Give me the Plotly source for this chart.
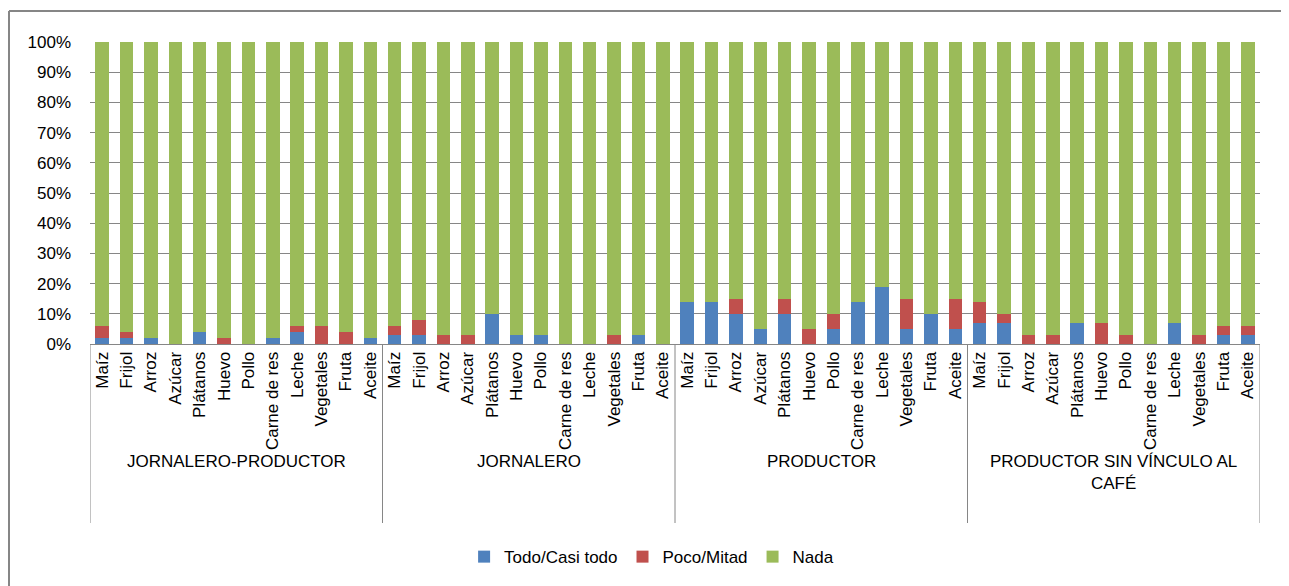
import plotly.graph_objects as go

groups = ["JORNALERO-PRODUCTOR", "JORNALERO", "PRODUCTOR", "PRODUCTOR SIN VÍNCULO AL<br>CAFÉ"]
foods = ["Maíz", "Frijol", "Arroz", "Azúcar", "Plátanos", "Huevo", "Pollo",
         "Carne de res", "Leche", "Vegetales", "Fruta", "Aceite"]

todo = [
    [2, 2, 2, 0, 4, 0, 0, 2, 4, 0, 0, 2],
    [3, 3, 0, 0, 10, 3, 3, 0, 0, 0, 3, 0],
    [14, 14, 10, 5, 10, 0, 5, 14, 19, 5, 10, 5],
    [7, 7, 0, 0, 7, 0, 0, 0, 7, 0, 3, 3],
]
poco = [
    [4, 2, 0, 0, 0, 2, 0, 0, 2, 6, 4, 0],
    [3, 5, 3, 3, 0, 0, 0, 0, 0, 3, 0, 0],
    [0, 0, 5, 0, 5, 5, 5, 0, 0, 10, 0, 10],
    [7, 3, 3, 3, 0, 7, 3, 0, 0, 3, 3, 3],
]

nf = len(foods)
xs, labels, t_vals, p_vals, n_vals = [], [], [], [], []
for gi, g in enumerate(groups):
    for fi, f in enumerate(foods):
        xs.append(gi * nf + fi)
        labels.append(f)
        t = todo[gi][fi]
        p = poco[gi][fi]
        t_vals.append(t / 100)
        p_vals.append(p / 100)
        n_vals.append((100 - t - p) / 100)

fig = go.Figure()
fig.add_bar(x=xs, y=t_vals, name="Todo/Casi todo", marker_color="#4F81BD", marker_line_width=0)
fig.add_bar(x=xs, y=p_vals, name="Poco/Mitad", marker_color="#C0504D", marker_line_width=0)
fig.add_bar(x=xs, y=n_vals, name="Nada", marker_color="#9BBB59", marker_line_width=0)

# page offset of 8px (body margin) compensated in margins
PL, PR, PT, PB = 90, 1260, 42, 344  # plot area in page pixels
W, H = 1170, 302
gray = "#868686"

def px(xpage):
    return (xpage - PL) / W

def py(ypage):
    return (PB - ypage) / H

shapes = [
    dict(type="line", xref="paper", yref="paper", x0=px(9), x1=px(1300),
         y0=py(11), y1=py(11), line=dict(color=gray, width=2)),
    dict(type="line", xref="paper", yref="paper", x0=px(9), x1=px(9),
         y0=py(11), y1=py(600), line=dict(color=gray, width=2)),
]
for gi in range(len(groups) + 1):
    xv = gi * nf - 0.5
    shapes.append(dict(type="line", xref="x", yref="paper", x0=xv, x1=xv,
                       y0=0, y1=py(523), line=dict(color=gray, width=1)))

annotations = []
for gi, g in enumerate(groups):
    annotations.append(dict(text=g, x=gi * nf + (nf - 1) / 2, xref="x",
                            y=py(450), yref="paper", yanchor="top",
                            showarrow=False, font=dict(size=17)))

font = "Liberation Sans, Arial, sans-serif"
fig.update_layout(
    barmode="stack",
    bargap=0.45,
    width=1289, height=586,
    margin=dict(l=82, r=37, t=34, b=250),
    paper_bgcolor="white", plot_bgcolor="white",
    font=dict(family=font, size=17, color="#000000"),
    showlegend=True,
    legend=dict(orientation="h", x=0.48, xanchor="center", yref="container",
                y=0.063, yanchor="middle", font=dict(size=17),
                itemwidth=30, traceorder="normal"),
    xaxis=dict(range=[-0.5, len(xs) - 0.5], tickmode="array", tickvals=xs,
               ticktext=labels, tickangle=-90, showline=True,
               linecolor=gray, linewidth=1, ticks="", showgrid=False,
               zeroline=False, tickfont=dict(size=17)),
    yaxis=dict(range=[0, 1], tickformat=".0%", dtick=0.1, showgrid=True,
               gridcolor=gray, gridwidth=1, zeroline=False, showline=False,
               ticks="", ticklabelstandoff=18, tickfont=dict(size=17)),
    shapes=shapes,
    annotations=annotations,
)
fig.write_html("out.html")
